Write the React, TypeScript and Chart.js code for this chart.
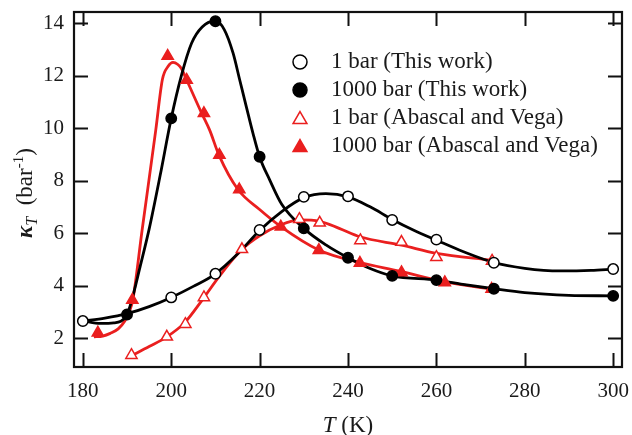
import React, { useEffect, useRef } from 'react';
import { Chart, registerables } from 'chart.js';

Chart.register(...registerables);

// ---- axis ticks ----
const X_TICKS = [180, 200, 220, 240, 260, 280, 300];
const Y_TICKS = [2, 4, 6, 8, 10, 12, 14];

// ---- series labels ----
const LABEL_W1 = '1 bar (This work)';
const LABEL_W1000 = '1000 bar (This work)';
const LABEL_AV1 = '1 bar (Abascal and Vega)';
const LABEL_AV1000 = '1000 bar (Abascal and Vega)';

// ---- marker data (T in K, kappa_T in 1/bar) ----
const w1T = [180, 200, 210, 220, 230, 240, 250, 260, 273, 300];
const w1K = [2.65, 3.55, 4.45, 6.12, 7.38, 7.4, 6.5, 5.75, 4.87, 4.63];

const w1000T = [190, 200, 210, 220, 230, 240, 250, 260, 273, 300];
const w1000K = [2.9, 10.37, 14.07, 8.91, 6.18, 5.06, 4.37, 4.21, 3.88, 3.61];

const av1T = [191, 199, 203.2, 207.4, 216, 229, 233.6, 242.8, 252.1, 260, 272.6];
const av1K = [1.35, 2.05, 2.53, 3.55, 5.38, 6.53, 6.39, 5.72, 5.66, 5.08, 4.94];

const av1000T = [183.4, 191.2, 199.2, 203.5, 207.4, 210.9, 215.4, 224.8, 233.4, 242.7, 252.1, 261.9, 272.5];
const av1000K = [2.2, 3.45, 12.74, 11.83, 10.56, 8.97, 7.66, 6.24, 5.35, 4.86, 4.5, 4.12, 3.87];

// ---- fitted curves ----
const fitW1T = [180, 185, 190, 195, 200, 205, 210, 215, 220, 225, 230, 235, 240, 245, 250, 255, 260, 266, 273, 280, 288, 295, 300];
const fitW1K = [2.65, 2.76, 2.93, 3.2, 3.55, 3.97, 4.45, 5.2, 6.1, 6.82, 7.35, 7.5, 7.38, 7.0, 6.52, 6.1, 5.73, 5.3, 4.88, 4.66, 4.56, 4.58, 4.63];

const fitW1000T = [180, 184, 187, 190, 191, 193, 195, 197.5, 200, 202.3, 204.6, 207, 210, 212, 214, 215.5, 217, 218.5, 220, 222.3, 225, 230, 235, 240, 245, 250, 260, 266, 273, 280, 290, 300];
const fitW1000K = [2.66, 2.56, 2.58, 2.9, 3.4, 4.75, 6.15, 8.2, 10.37, 12.0, 13.23, 13.85, 14.08, 13.75, 12.85, 11.83, 10.81, 9.8, 8.9, 8.02, 7.1, 6.18, 5.55, 5.06, 4.65, 4.37, 4.21, 4.05, 3.88, 3.73, 3.63, 3.61];

const fitAV1T = [191, 195, 199, 203, 207, 211, 216, 220, 224.6, 229, 233.6, 238, 242.7, 252.1, 260, 272.5];
const fitAV1K = [1.33, 1.68, 2.05, 2.58, 3.45, 4.38, 5.38, 5.9, 6.3, 6.5, 6.45, 6.18, 5.86, 5.54, 5.23, 4.97];

const fitAV1000T = [182.5, 184.5, 186.2, 188, 189.5, 190.5, 191.3, 193.4, 196.5, 198, 199.3, 200.4, 201.5, 202.3, 203.5, 206.9, 208.7, 210.8, 215.1, 220, 224.8, 233.5, 242.7, 251.7, 261.9, 272.5];
const fitAV1000K = [2.05, 2.08, 2.18, 2.35, 2.65, 3.0, 3.45, 6.1, 9.92, 11.85, 12.35, 12.5, 12.42, 12.27, 11.83, 10.56, 9.92, 8.97, 7.66, 6.9, 6.25, 5.35, 4.88, 4.55, 4.14, 3.86];

const BLACK = '#000000';
const RED = '#ea1f1f';
const SERIF = '"Liberation Serif", "DejaVu Serif", serif';

const xy = (xs: number[], ys: number[]) => xs.map((x, i) => ({ x, y: ys[i] }));

const markerDs = (label: string, xs: number[], ys: number[], style: string, color: string, filled: boolean, r: number) => ({
  label,
  data: xy(xs, ys),
  showLine: false,
  pointStyle: style,
  pointRadius: r,
  pointHoverRadius: r,
  pointBackgroundColor: filled ? color : '#ffffff',
  pointBorderColor: color,
  pointBorderWidth: 1.5,
  backgroundColor: filled ? color : '#ffffff',
  borderColor: color,
  order: 0,
});

const fitDs = (label: string, xs: number[], ys: number[], color: string) => ({
  label,
  data: xy(xs, ys),
  showLine: true,
  pointRadius: 0,
  pointHoverRadius: 0,
  borderColor: color,
  borderWidth: 2.8,
  cubicInterpolationMode: 'monotone',
  fill: false,
  order: 2,
});

function drawMarker(ctx: CanvasRenderingContext2D, style: string, x: number, y: number, r: number, fill: string, stroke: string) {
  ctx.beginPath();
  if (style === 'triangle') {
    let rad = 0;
    ctx.moveTo(x + Math.sin(rad) * r, y - Math.cos(rad) * r);
    rad += (2 * Math.PI) / 3;
    ctx.lineTo(x + Math.sin(rad) * r, y - Math.cos(rad) * r);
    rad += (2 * Math.PI) / 3;
    ctx.lineTo(x + Math.sin(rad) * r, y - Math.cos(rad) * r);
    ctx.closePath();
  } else {
    ctx.arc(x, y, r, 0, Math.PI * 2);
  }
  ctx.fillStyle = fill;
  ctx.fill();
  ctx.lineWidth = 1.5;
  ctx.strokeStyle = stroke;
  ctx.stroke();
}

const framePlugin = {
  id: 'framePlugin',
  beforeDatasetsDraw(chart: any) {
    const { ctx, chartArea: a, scales } = chart;
    ctx.save();
    ctx.strokeStyle = '#111';
    ctx.lineWidth = 2;
    const L = 14;
    ctx.beginPath();
    X_TICKS.forEach((v) => {
      const px = Math.round(scales.x.getPixelForValue(v)) + 0.5;
      ctx.moveTo(px, a.bottom);
      ctx.lineTo(px, a.bottom - L);
      ctx.moveTo(px, a.top);
      ctx.lineTo(px, a.top + L);
    });
    Y_TICKS.forEach((v) => {
      const py = Math.round(scales.y.getPixelForValue(v)) + 0.5;
      ctx.moveTo(a.left, py);
      ctx.lineTo(a.left + L, py);
      ctx.moveTo(a.right, py);
      ctx.lineTo(a.right - L, py);
    });
    ctx.stroke();
    ctx.lineWidth = 2.2;
    ctx.strokeRect(a.left, a.top, a.right - a.left, a.bottom - a.top);
    ctx.restore();
  },
  afterDraw(chart: any) {
    const { ctx, chartArea: a } = chart;
    ctx.save();
    ctx.fillStyle = '#1a1a1a';
    ctx.textBaseline = 'middle';

    // x title: italic T + " (K)"
    const cx = (a.left + a.right) / 2;
    const fT = `italic 23px ${SERIF}`;
    const fR = `23px ${SERIF}`;
    ctx.font = fT;
    const wT = ctx.measureText('T').width;
    ctx.font = fR;
    const wK = ctx.measureText(' (K)').width;
    const sx = cx - (wT + wK) / 2;
    ctx.textAlign = 'left';
    ctx.font = fT;
    ctx.fillText('T', sx, 426);
    ctx.font = fR;
    ctx.fillText(' (K)', sx + wT, 426);

    // y title: kappa_T (bar^-1), rotated
    ctx.save();
    ctx.translate(25, 193);
    ctx.rotate(-Math.PI / 2);
    ctx.textBaseline = 'alphabetic';
    const parts: [string, string, number][] = [
      ['κ', `italic bold 23px ${SERIF}`, 0],
      ['T', `italic 16px ${SERIF}`, 5],
      ['  (bar', `23px ${SERIF}`, 0],
      ['-1', `15px ${SERIF}`, -9],
      [')', `23px ${SERIF}`, 0],
    ];
    let total = 0;
    const widths = parts.map(([t, f]) => {
      ctx.font = f;
      const w = ctx.measureText(t).width;
      total += w;
      return w;
    });
    let px = -total / 2;
    parts.forEach(([t, f, dy], i) => {
      ctx.font = f;
      ctx.fillText(t, px, 7 + dy);
      px += widths[i];
    });
    ctx.restore();

    // legend
    const markers = chart.data.datasets.filter((d: any) => d.showLine === false);
    ctx.textAlign = 'left';
    ctx.textBaseline = 'middle';
    ctx.font = `23px ${SERIF}`;
    markers.forEach((d: any, i: number) => {
      const y = 62 + i * 28;
      const r = d.pointStyle === 'triangle' ? 8 : 7;
      drawMarker(ctx, d.pointStyle, 300, d.pointStyle === 'triangle' ? y + 1.5 : y, r, d.pointBackgroundColor, d.pointBorderColor);
      ctx.fillStyle = '#1a1a1a';
      ctx.fillText(d.label, 331, y);
    });
    ctx.restore();
  },
};

const zeroPad = (s: any) => {
  s.paddingLeft = 0;
  s.paddingRight = 0;
  s.paddingTop = 0;
  s.paddingBottom = 0;
};

export default function App() {
  const ref = useRef<HTMLCanvasElement>(null);
  useEffect(() => {
    const canvas = ref.current;
    if (!canvas) return;
    const chart = new Chart(canvas, {
      type: 'scatter',
      data: {
        datasets: [
          markerDs(LABEL_W1, w1T, w1K, 'circle', BLACK, false, 5.2),
          markerDs(LABEL_W1000, w1000T, w1000K, 'circle', BLACK, true, 5.2),
          markerDs(LABEL_AV1, av1T, av1K, 'triangle', RED, false, 6.5),
          markerDs(LABEL_AV1000, av1000T, av1000K, 'triangle', RED, true, 6.5),
          fitDs('fit ' + LABEL_W1, fitW1T, fitW1K, BLACK),
          fitDs('fit ' + LABEL_W1000, fitW1000T, fitW1000K, BLACK),
          fitDs('fit ' + LABEL_AV1, fitAV1T, fitAV1K, RED),
          fitDs('fit ' + LABEL_AV1000, fitAV1000T, fitAV1000K, RED),
        ] as any,
      },
      options: {
        animation: false,
        responsive: false,
        devicePixelRatio: 1,
        layout: { padding: { top: 12, right: 10, left: 0, bottom: 0 } },
        plugins: {
          legend: { display: false },
          tooltip: { enabled: false },
          title: { display: false },
        },
        scales: {
          x: {
            type: 'linear',
            min: 178,
            max: 302,
            grid: { display: false, drawTicks: false },
            border: { display: false },
            ticks: {
              color: '#1a1a1a',
              font: { family: SERIF, size: 21 },
              padding: 12,
              maxRotation: 0,
            },
            afterBuildTicks: (s: any) => {
              s.ticks = X_TICKS.map((v) => ({ value: v }));
            },
            afterFit: (s: any) => {
              s.height = 68;
              zeroPad(s);
            },
          },
          y: {
            type: 'linear',
            min: 0.9,
            max: 14.42,
            grid: { display: false, drawTicks: false },
            border: { display: false },
            ticks: {
              color: '#1a1a1a',
              font: { family: SERIF, size: 21 },
              padding: 10,
            },
            afterBuildTicks: (s: any) => {
              s.ticks = Y_TICKS.map((v) => ({ value: v }));
            },
            afterFit: (s: any) => {
              s.width = 74;
              zeroPad(s);
            },
          },
        },
      } as any,
      plugins: [framePlugin],
    });
    return () => chart.destroy();
  }, []);
  return (
    <div style={{ position: 'fixed', left: 0, top: 0, width: 632, height: 435, background: '#ffffff' }}>
      <canvas ref={ref} width={632} height={435} style={{ display: 'block', width: 632, height: 435 }} />
    </div>
  );
}
